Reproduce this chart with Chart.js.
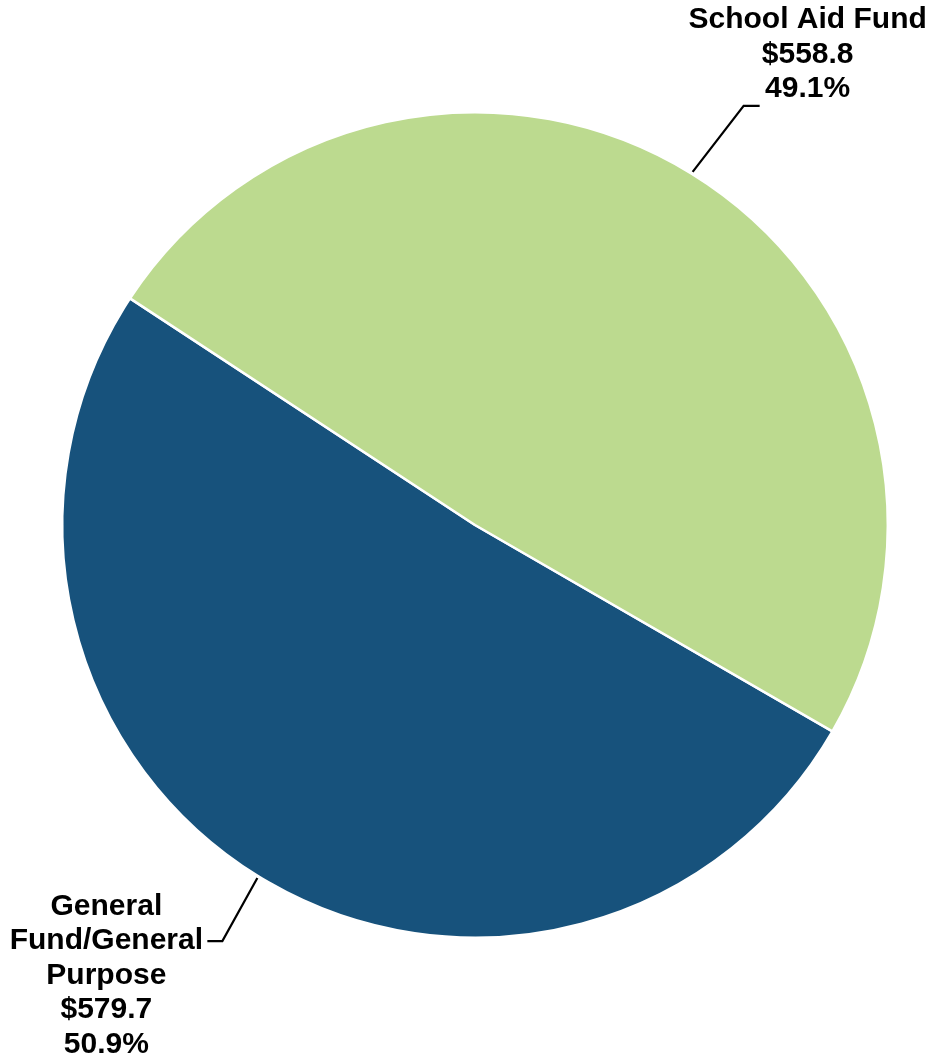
<!DOCTYPE html>
<html>
<head>
<meta charset="utf-8">
<script src="https://cdn.jsdelivr.net/npm/chart.js@4/dist/chart.umd.min.js"></script>
<style>
html,body{margin:0;padding:0;background:#fff;}
#wrap{width:932px;height:1059px;}
</style>
</head>
<body>
<div id="wrap"><canvas id="c" width="932" height="1059"></canvas></div>
<script>
const categories = ["General Fund/General Purpose", "School Aid Fund"];
const labelLines = [["General", "Fund/General", "Purpose"], ["School Aid Fund"]];
const values = [579.7, 558.8];
const percents = ["50.9%", "49.1%"];
const colors = ["#17527C", "#BCDA8F"];

const labelPlugin = {
  id: 'leaderLabels',
  afterDatasetsDraw(chart, args, opts) {
    const ctx = chart.ctx;
    const meta = chart.getDatasetMeta(0);
    ctx.save();
    ctx.font = 'bold 30px "Liberation Sans", Arial, sans-serif';
    ctx.fillStyle = '#000';
    ctx.strokeStyle = '#000';
    ctx.lineWidth = 2.2;
    ctx.textBaseline = 'middle';
    ctx.textAlign = 'center';
    const lh = 34.5;
    meta.data.forEach((arc, i) => {
      const p = arc.getProps(['x','y','startAngle','endAngle','outerRadius'], true);
      const mid = (p.startAngle + p.endAngle) / 2;
      const r = p.outerRadius;
      const right = Math.cos(mid) >= 0;
      const L = opts.leaders[i];
      const x0 = p.x + Math.cos(mid) * (r + 2);
      const y0 = p.y + Math.sin(mid) * (r + 2);
      const x1 = x0 + L.dx;
      const y1 = y0 + L.dy;
      const x2 = x1 + L.h;
      ctx.beginPath();
      ctx.moveTo(x0, y0);
      ctx.lineTo(x1, y1);
      ctx.lineTo(x2, y1);
      ctx.stroke();
      const lines = labelLines[i].concat(["$" + values[i].toFixed(1), percents[i]]);
      if (right) {
        const cx = x2 + 48;
        const lastY = y1 - 17;
        lines.forEach((t, k) => {
          ctx.fillText(t, cx, lastY - (lines.length - 1 - k) * lh);
        });
      } else {
        const cx = x2 - 101;
        lines.forEach((t, k) => {
          ctx.fillText(t, cx, y1 + (k - 1) * lh);
        });
      }
    });
    ctx.restore();
  }
};

new Chart(document.getElementById('c'), {
  type: 'pie',
  data: {
    labels: categories,
    datasets: [{
      data: values,
      backgroundColor: colors,
      borderColor: '#ffffff',
      borderWidth: 2.5
    }]
  },
  options: {
    responsive: false,
    animation: false,
    rotation: 120,
    layout: { padding: { left: 61, right: 43, top: 111, bottom: 120 } },
    plugins: {
      legend: { display: false },
      tooltip: { enabled: false },
      leaderLabels: {
        leaders: [
          { dx: -35, dy: 63, h: -15 },
          { dx: 51, dy: -66, h: 16 }
        ]
      }
    }
  },
  plugins: [labelPlugin]
});
</script>
</body>
</html>
